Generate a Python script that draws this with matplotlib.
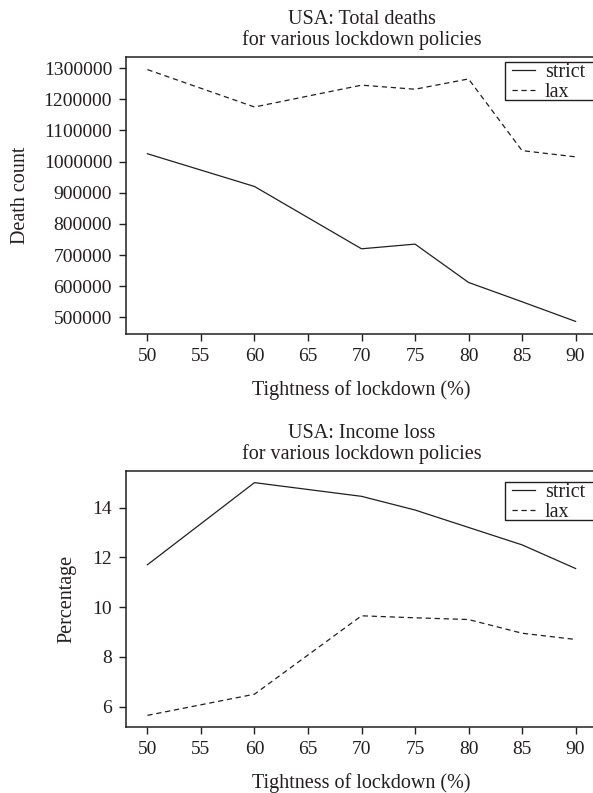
import matplotlib
matplotlib.use("Agg")
import matplotlib.pyplot as plt
from matplotlib.patches import Rectangle

tightness = [50, 60, 70, 75, 80, 85, 90]
deaths_strict = [1025000, 920000, 720000, 735000, 612000, 550000, 487000]
deaths_lax = [1295000, 1175000, 1245000, 1232000, 1265000, 1035000, 1015000]
income_strict = [11.7, 15.0, 14.45, 13.9, 13.2, 12.5, 11.55]
income_lax = [5.65, 6.5, 9.65, 9.57, 9.5, 8.95, 8.7]
xticks = [50, 55, 60, 65, 70, 75, 80, 85, 90]

plt.rcParams['font.family'] = ['Liberation Serif', 'DejaVu Serif']
ink = '#231f20'
FS = 14.5
DASH = (0, (4.2, 3))

fig = plt.figure(figsize=(5.93, 7.93), dpi=100)
ax1 = fig.add_axes([126/593, 1-334/793, 471/593, 277/793])
ax2 = fig.add_axes([126/593, 1-727/793, 471/593, 256/793])

legends = []

def style(ax, title, ylabel, ylx, anchor):
    ax.set_title(title, fontsize=FS, pad=9, color=ink, linespacing=1.05)
    ax.set_xlabel('Tightness of lockdown (%)', fontsize=FS, labelpad=11, color=ink)
    ax.set_ylabel(ylabel, fontsize=FS, color=ink)
    ax.yaxis.set_label_coords(ylx, 0.5)
    ax.set_xticks(xticks)
    ax.tick_params(axis='both', direction='out', length=5, width=1, color=ink,
                   labelsize=14, labelcolor=ink, pad=5)
    for s in ax.spines.values():
        s.set_color(ink)
        s.set_linewidth(1.1)
    leg = ax.legend(loc='upper right', bbox_to_anchor=anchor, fontsize=FS,
                    frameon=False, borderpad=0.0, labelspacing=0.05,
                    handlelength=1.15, handletextpad=0.5, borderaxespad=0)
    for t in leg.get_texts():
        t.set_color(ink)
    legends.append(leg)

ax1.plot(tightness, deaths_strict, color=ink, lw=0.9, label='strict')
ax1.plot(tightness, deaths_lax, color=ink, lw=0.9, ls=DASH, label='lax')
ax1.set_yticks([500000, 600000, 700000, 800000, 900000, 1000000, 1100000, 1200000, 1300000])
ax1.ticklabel_format(axis='y', style='plain', useOffset=False)
style(ax1, 'USA: Total deaths\nfor various lockdown policies', 'Death count',
      (30-126)/471, ((585-126)/471, 1-(63-57)/277))

ax2.plot(tightness, income_strict, color=ink, lw=0.9, label='strict')
ax2.plot(tightness, income_lax, color=ink, lw=0.9, ls=DASH, label='lax')
ax2.set_yticks([6, 8, 10, 12, 14])
style(ax2, 'USA: Income loss\nfor various lockdown policies', 'Percentage',
      (76-126)/471, ((585-126)/471, 1-(483-471)/256))

# draw legend frames tighter vertically than the legend box
fig.canvas.draw()
r = fig.canvas.get_renderer()
inv = fig.transFigure.inverted()
for leg in legends:
    bb = leg.get_window_extent(r)
    x0, x1 = bb.x0 - 7, bb.x1 + 10
    y0, y1 = bb.y0 + 2.5, bb.y1 + 1
    (fx0, fy0) = inv.transform((x0, y0))
    (fx1, fy1) = inv.transform((x1, y1))
    fig.add_artist(Rectangle((fx0, fy0), fx1 - fx0, fy1 - fy0, transform=fig.transFigure,
                             fill=False, edgecolor=ink, linewidth=1.0, zorder=10))

fig.savefig('out.png', dpi=100)
